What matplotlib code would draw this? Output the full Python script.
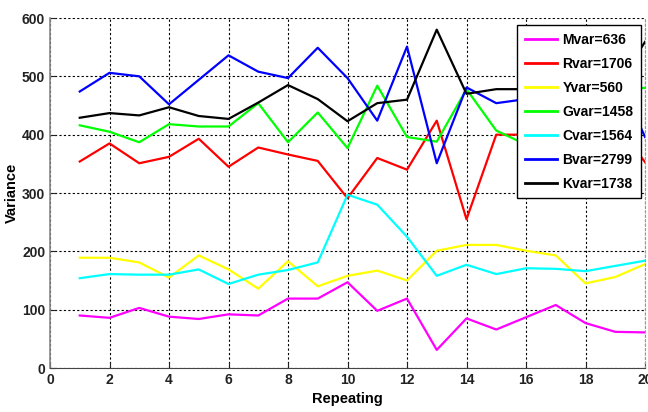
import matplotlib
matplotlib.use("Agg")
import matplotlib.pyplot as plt
from matplotlib import font_manager

# bold narrow sans if available, otherwise regular Liberation Sans
names = {f.name for f in font_manager.fontManager.ttflist}
family = "Liberation Sans Narrow" if "Liberation Sans Narrow" in names else "Liberation Sans"
plt.rcParams["font.family"] = [family, "DejaVu Sans"]
plt.rcParams["font.weight"] = "bold"

runs = list(range(1, 21))

m_var = [90, 86, 103, 88, 84, 92, 90, 119, 119, 147, 98, 119, 31, 85, 66, 87, 108, 77, 62, 61]
r_var = [354, 385, 351, 362, 393, 345, 378, 366, 355, 291, 360, 340, 424, 255, 400, 400, 400, 410, 420, 353]
y_var = [189, 189, 181, 155, 193, 169, 136, 183, 140, 158, 167, 150, 201, 211, 211, 201, 193, 145, 156, 178]
g_var = [416, 405, 387, 418, 414, 414, 454, 387, 438, 377, 484, 396, 388, 478, 407, 383, 420, 450, 480, 480]
c_var = [154, 161, 160, 160, 169, 144, 160, 168, 181, 297, 280, 225, 158, 177, 161, 171, 170, 166, 175, 184]
b_var = [474, 506, 500, 452, 494, 536, 508, 497, 549, 497, 424, 551, 351, 481, 454, 461, 470, 480, 510, 396]
k_var = [429, 437, 433, 447, 432, 427, 455, 485, 461, 423, 454, 460, 580, 470, 478, 478, 478, 478, 480, 559]

labels = ["Mvar=636", "Rvar=1706", "Yvar=560", "Gvar=1458", "Cvar=1564", "Bvar=2799", "Kvar=1738"]
colors = ["#ff00ff", "#ff0000", "#ffff00", "#00ff00", "#00ffff", "#0000ff", "#000000"]
series = [m_var, r_var, y_var, g_var, c_var, b_var, k_var]

fig = plt.figure(figsize=(6.48, 4.12), dpi=100)
ax = fig.add_axes([50 / 648, 44 / 412, 595 / 648, 350 / 412])

for vals, col, lab in zip(series, colors, labels):
    ax.plot(runs, vals, color=col, lw=1.6, label=lab)

ax.set_xlim(0, 20)
ax.set_ylim(0, 600)
ax.set_xticks(range(0, 21, 2))
ax.set_yticks(range(0, 601, 100))
ax.grid(True, color="black", linestyle=(0, (2, 2)), linewidth=0.8)
ax.tick_params(direction="in", length=4, labelsize=10, colors="#222222")
for lab in ax.get_xticklabels() + ax.get_yticklabels():
    lab.set_fontweight("bold")

ax.spines["top"].set_visible(False)
ax.spines["right"].set_color("#999999")
ax.spines["right"].set_linestyle((0, (2, 2)))
ax.spines["left"].set_color("#888888")
ax.spines["left"].set_linewidth(1.2)
ax.spines["bottom"].set_color("#444444")

ax.set_xlabel("Repeating", fontsize=10.5, fontweight="bold", labelpad=4)
ax.set_ylabel("Variance", fontsize=10.5, fontweight="bold", labelpad=2)

leg = ax.legend(loc="upper right", bbox_to_anchor=(0.9933, 0.98), fontsize=10,
                frameon=True, fancybox=False, edgecolor="black", framealpha=1,
                handlelength=2.3, labelspacing=0.72, borderpad=0.55, handletextpad=0.4,
                borderaxespad=0)
leg.get_frame().set_linewidth(1.0)
for t in leg.get_texts():
    t.set_fontweight("bold")
for h in leg.get_lines():
    h.set_linewidth(2)

fig.savefig("out.png", dpi=100)
